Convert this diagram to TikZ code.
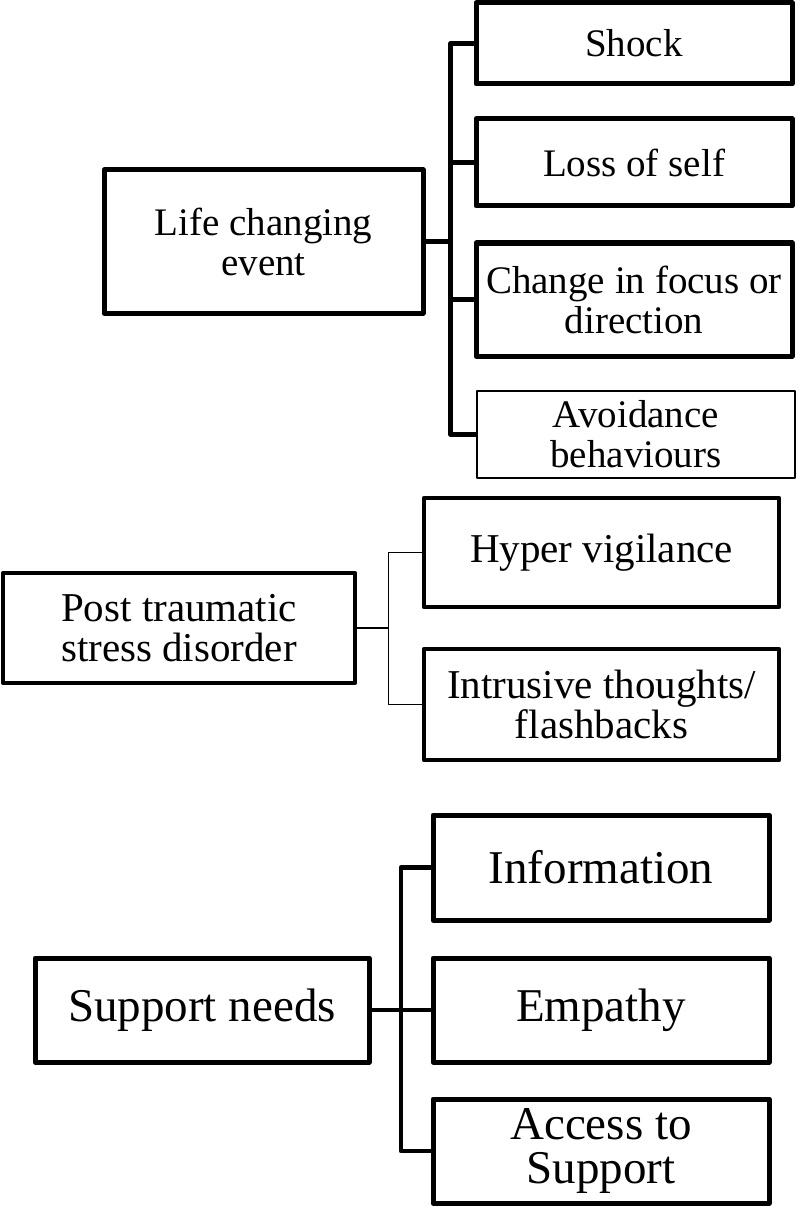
\documentclass[tikz,border=0pt]{standalone}
\usepackage{fontspec}
\setmainfont{Liberation Serif}
\usepackage{tikz}

\begin{document}
\begin{tikzpicture}[x=1pt, y=-1pt, line join=round,
    box/.style={draw, line width=5pt, align=center, inner sep=0pt,
      font=\fontsize{39}{40}\selectfont},
    thinbox/.style={box, line width=2.2pt},
    midbox/.style={box, line width=4.5pt, font=\fontsize{41}{40}\selectfont},
    bigbox/.style={box, font=\fontsize{47}{44}\selectfont},
    conn/.style={line width=4.5pt},
    thinconn/.style={line width=1.3pt}]
    \useasboundingbox (0, 0) rectangle (800, 1206);
    % life changing event
    \node[box, minimum width=319pt, minimum height=143pt] (life) at (263.5, 241.5) {Life changing\\event};
    \node[box, minimum width=316pt, minimum height=81pt] (shock) at (634, 43.5) {Shock};
    \node[box, minimum width=316pt, minimum height=87pt] (loss) at (634, 162.5) {Loss of self};
    \node[box, minimum width=316pt, minimum height=113pt] (change) at (634, 299.5) {Change in focus or\\direction};
    \node[thinbox, minimum width=318pt, minimum height=87pt] (avoid) at (636, 434.5) {Avoidance\\behaviours};
    \coordinate (lbus) at (450.5, 241.5);
    \draw[conn] (life.east) -- (lbus);
    \foreach \n in {shock, loss, change, avoid}
      \draw[conn] (lbus) |- (\n.west);
    % post traumatic stress disorder
    \node[midbox, minimum width=352pt, minimum height=110pt] (ptsd) at (179, 628) {Post traumatic\\stress disorder};
    \node[midbox, minimum width=355pt, minimum height=109pt] (hyper) at (601.5, 552.5) {Hyper vigilance};
    \node[midbox, minimum width=355pt, minimum height=111pt] (intrusive) at (601.5, 704.5) {Intrusive thoughts/\\flashbacks};
    \coordinate (pbus) at (388.5, 628);
    \draw[thinconn] (ptsd.east) -- (pbus);
    \foreach \n in {hyper, intrusive}
      \draw[thinconn] (pbus) |- (\n.west);
    % support needs
    \node[bigbox, minimum width=334pt, minimum height=104pt] (support) at (202, 1010) {Support needs};
    \node[bigbox, minimum width=336pt, minimum height=105pt] (info) at (601, 867.5) {Information};
    \node[bigbox, minimum width=336pt, minimum height=104pt] (empathy) at (601, 1010) {Empathy};
    \node[bigbox, minimum width=336pt, minimum height=104pt] (access) at (601, 1151) {Access to\\Support};
    \coordinate (sbus) at (401, 1010);
    \draw[conn] (support.east) -- (sbus);
    \foreach \n in {info, empathy, access}
      \draw[conn] (sbus) |- (\n.west);
\end{tikzpicture}
\end{document}
